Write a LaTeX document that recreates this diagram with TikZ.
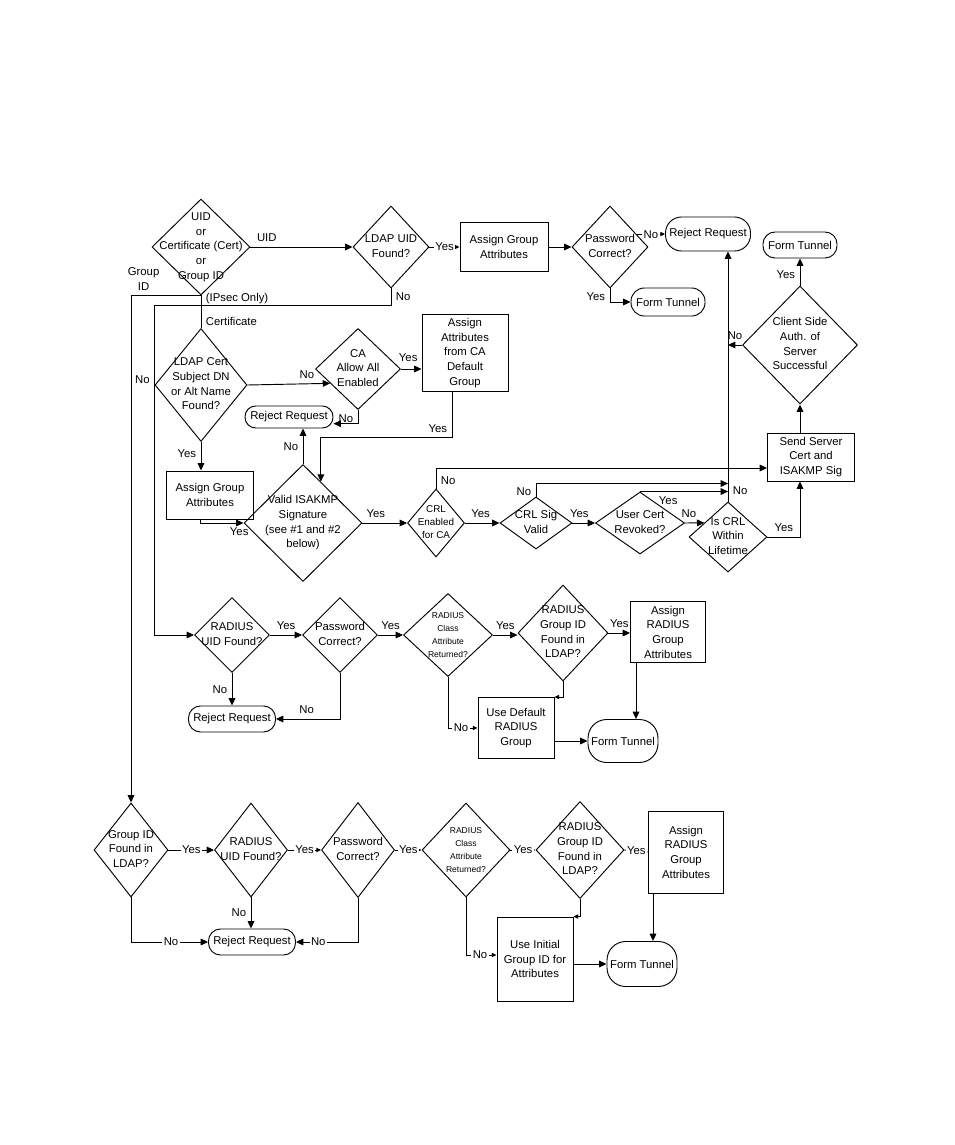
\documentclass[tikz,border=0pt]{standalone}
\usepackage{fontspec}
\setmainfont{Liberation Sans}
\usetikzlibrary{shapes.geometric,arrows.meta,calc}
\newcommand{\mainfnt}{\fontsize{8.5}{11}\selectfont}
\newcommand{\tinyfnt}{\fontsize{6.4}{9.75}\selectfont}
\newcommand{\crlfnt}{\fontsize{7.4}{9.75}\selectfont}
\newcommand{\dlines}[1]{\makebox[0pt]{\begin{tabular}{@{}c@{}}#1\end{tabular}}}

\tikzset{
  dia/.style 2 args={diamond, draw, inner sep=0pt, minimum width=#1*0.75pt, minimum height=#2*0.75pt},
  blk/.style 2 args={rectangle, draw, align=center, inner sep=1pt, minimum width=#1*0.75pt, minimum height=#2*0.75pt},
  term/.style n args={3}{rectangle, rounded corners=#3, draw, inner sep=1pt, minimum width=#1*0.75pt, minimum height=#2*0.75pt},
  arr/.style={-{Triangle[length=5.5pt,width=5pt]}},
  sarr/.style={-{Triangle[length=3.5pt,width=3.2pt]}},
  inl/.style={fill=white, inner sep=1pt}
}

\begin{document}
\begin{tikzpicture}[x=0.75pt, y=-0.75pt, line width=0.7pt, every node/.style={font=\mainfnt}]
\useasboundingbox (0,0) rectangle (954,1145);

\node[dia={98}{96}] (src) at (201,247) {\dlines{UID\\or\\Certificate (Cert)\\or\\Group ID}};
\node[dia={76}{82}] (ldapuid) at (391,247) {\dlines{LDAP UID\\Found?}};
\node[blk={88}{49}] (grpattr) at (504,247) {Assign Group\\Attributes};
\node[dia={76}{82}] (pwok) at (610,247) {\dlines{Password\\Correct?}};
\node[term={85}{34}{12pt}] (rejA) at (708,234) {Reject Request};
\node[term={74}{28}{10pt}] (tunA) at (668,302) {Form Tunnel};
\node[term={74}{26}{9pt}] (tunB) at (800,245) {Form Tunnel};
\node[dia={115}{118}] (srvauth) at (800,345) {\dlines{Client Side\\Auth. of\\Server\\Successful}};
\node[blk={87}{48}] (sendcert) at (811,457) {Send Server\\Cert and\\ISAKMP Sig};
\node[dia={92}{113}] (certdn) at (201,385) {\dlines{LDAP Cert\\Subject DN\\or Alt Name\\Found?}};
\node[dia={85}{81}] (caall) at (358,369) {\dlines{CA\\Allow All\\Enabled}};
\node[blk={86}{77}] (cagrp) at (465,353) {Assign\\Attributes\\from CA\\Default\\Group};
\node[term={88}{22}{8pt}] (rejB) at (289,417) {Reject Request};
\node[blk={87}{48}] (grpattrB) at (210,495) {Assign Group\\Attributes};
\node[dia={118}{117}] (isakmp) at (303,523) {\dlines{Valid ISAKMP\\Signature\\(see \#1 and \#2\\below)}};
\node[dia={57}{68}, font=\crlfnt] (crlon) at (436,523) {\dlines{CRL\\Enabled\\for CA}};
\node[dia={72}{52}] (crlsig) at (536,523) {\dlines{CRL Sig\\Valid}};
\node[dia={89}{62}] (revoked) at (640,523) {\dlines{User Cert\\Revoked?}};
\node[dia={78}{70}] (crllife) at (728,537) {\dlines{Is CRL\\Within\\Lifetime}};

\node[dia={75}{75}] (raduid) at (232,635) {\dlines{RADIUS\\UID Found?}};
\node[dia={75}{75}] (pwokB) at (340,635) {\dlines{Password\\Correct?}};
\node[dia={89}{83}, font=\tinyfnt] (classret) at (448,635) {\dlines{RADIUS\\Class\\Attribute\\Returned?}};
\node[dia={90}{96}] (radgrp) at (563,633) {\dlines{RADIUS\\Group ID\\Found in\\LDAP?}};
\node[blk={75}{61}] (radattr) at (668,632) {Assign\\RADIUS\\Group\\Attributes};
\node[term={87}{26}{9pt}] (rejC) at (232,719) {Reject Request};
\node[blk={76}{61}] (defgrp) at (516,728) {Use Default\\RADIUS\\Group};
\node[term={70}{43}{14pt}] (tunC) at (623,741) {Form Tunnel};

\node[dia={74}{94}] (gidldap) at (131,850) {\dlines{Group ID\\Found in\\LDAP?}};
\node[dia={73}{94}] (raduidB) at (251,850) {\dlines{RADIUS\\UID Found?}};
\node[dia={73}{95}] (pwokC) at (358,850) {\dlines{Password\\Correct?}};
\node[dia={88}{94}, font=\tinyfnt] (classretB) at (466,850) {\dlines{RADIUS\\Class\\Attribute\\Returned?}};
\node[dia={88}{97}] (radgrpB) at (580,850) {\dlines{RADIUS\\Group ID\\Found in\\LDAP?}};
\node[blk={75}{82}] (radattrB) at (686,852) {Assign\\RADIUS\\Group\\Attributes};
\node[term={87}{26}{9pt}] (rejD) at (252,942) {Reject Request};
\node[blk={76}{84}] (initgrp) at (535,959) {Use Initial\\Group ID for\\Attributes};
\node[term={70}{45}{14pt}] (tunD) at (642,964) {Form Tunnel};

\coordinate (pwedge) at ($(pwok.north)!0.7!(pwok.east)$);
\coordinate (caedge) at ($(caall.west)!0.35!(caall.south)$);
\coordinate (cadrop) at ([xshift=-9.75pt]cagrp.south);
\coordinate (isaedge) at ($(isakmp.north)!0.3!(isakmp.east)$);
\coordinate (rejBin) at ([yshift=-5pt]rejB.east);
\coordinate (grpdrop) at ([xshift=-7.5pt]grpattrB.south);
\coordinate (sendin) at ([yshift=-8.25pt]sendcert.west);
\coordinate (sigjoin) at ([yshift=13.5pt]crllife.north);
\coordinate (lifeedge) at ($(crllife.west)!0.4!(crllife.north)$);
\coordinate (raddrop) at ([xshift=-24pt]radattr.south);
\coordinate (raddropB) at ([xshift=-24.75pt]radattrB.south);
\coordinate (initin) at ([yshift=3pt]initgrp.west);

\draw[arr] (src.east) -- node[above, pos=0.16]{UID} (ldapuid.west);
\draw[sarr] (ldapuid.east) -- node[inl]{Yes} (grpattr.west);
\draw[arr] (grpattr.east) -- (pwok.west);
\draw[sarr] (pwedge) -- node[inl]{No} (rejA.west);
\draw[arr] (pwok.south) |- node[left, pos=0.3]{Yes} (tunA.west);
\draw[arr] (src.south) -| node[above, pos=0.41, align=center]{Group\\ID} (gidldap.north);
\draw (src.south) -- node[right, pos=0.1]{(IPsec Only)} node[right, pos=0.8]{Certificate} (certdn.north);
\draw[arr] (ldapuid.south) -- node[right]{No} ++(0,17) -| ([xshift=-30pt]raduid.west) -- (raduid.west);
\node[left, yshift=3.75pt] (dnno) at (certdn.west) {No};
\draw[arr] (certdn.east) -- node[above, pos=0.72]{No} (caedge);
\draw[arr] (caall.east) -- node[above=2pt, pos=0.35]{Yes} (caall.east -| cagrp.west);
\draw[arr] (cadrop) -- node[above left, pos=1]{Yes} ++(0,45.5) -| (isaedge);
\draw[arr] (caall.south) |- node[left, pos=0.3]{No} (rejBin);
\draw[arr] (isakmp.north) -- node[left]{No} (isakmp.north |- rejB.south);
\draw[arr] (certdn.south) -- node[left, pos=0.4]{Yes} (certdn.south |- grpattrB.north);
\draw[arr] (grpdrop) |- node[below, pos=0.95]{Yes} (isakmp.west);
\draw[arr] (isakmp.east) -- node[above, pos=0.3]{Yes} (crlon.west);
\draw[arr] (crlon.north) |- node[right, pos=0.2]{No} (sendin);
\draw[arr] (crlon.east) -- node[above, pos=0.45]{Yes} (crlsig.west);
\draw[arr] (crlsig.north) |- node[left, pos=0.2]{No} (sigjoin);
\draw[arr] (crlsig.east) -- node[above, pos=0.3]{Yes} (revoked.west);
\draw[arr] (revoked.north) -- node[below, pos=0.32]{Yes} (revoked.north -| crllife.north);
\draw[arr] (revoked.east) -- node[above, pos=0.2]{No} (lifeedge);
\draw[arr] (crllife.north) -- node[right, pos=0.045]{No} (crllife.north |- rejA.south);
\draw[arr] (srvauth.west) -- node[above]{No} (srvauth.west -| crllife.north);
\draw[arr] (crllife.east) -| node[above, pos=0.25]{Yes} (srvauth.south |- sendcert.south);
\draw[arr] (srvauth.south |- sendcert.north) -- (srvauth.south);
\draw[arr] (srvauth.north) -- node[left, pos=0.4]{Yes} (tunB.south);

\draw[arr] (raduid.east) -- node[above]{Yes} (pwokB.west);
\draw[arr] (pwokB.east) -- node[above]{Yes} (classret.west);
\draw[arr] (classret.east) -- node[above]{Yes} (classret.east -| radgrp.west);
\draw[arr] (radgrp.east) -- node[above]{Yes} (radgrp.east -| radattr.west);
\draw[arr] (raduid.south) -- node[left]{No} (rejC.north);
\draw[arr] (pwokB.south) |- node[above, pos=0.76]{No} (rejC.east);
\draw[sarr] (classret.south) |- node[inl, pos=0.72]{No} (defgrp.west);
\draw[sarr] (radgrp.south) |- (defgrp.north east);
\draw[arr] (tunC.west -| defgrp.east) -- (tunC.west);
\draw[arr] (raddrop) -- (raddrop |- tunC.north);

\draw[arr] (gidldap.east) -- node[inl]{Yes} (raduidB.west);
\draw[sarr] (raduidB.east) -- node[inl]{Yes} (pwokC.west);
\draw[sarr] (pwokC.east) -- node[inl]{Yes} (classretB.west);
\draw[sarr] (classretB.east) -- node[inl]{Yes} (radgrpB.west);
\draw[sarr] (radgrpB.east) -- node[inl]{Yes} (radattrB.west);
\draw[arr] (raduidB.south) -- node[left]{No} (raduidB.south |- rejD.north);
\draw[arr] (gidldap.south) |- node[inl, pos=0.76]{No} (rejD.west);
\draw[arr] (pwokC.south) |- node[inl, pos=0.82]{No} (rejD.east);
\draw[sarr] (classretB.south) |- node[inl, pos=0.73]{No} (initin);
\draw[sarr] (radgrpB.south) |- (initgrp.north east);
\draw[arr] (tunD.west -| initgrp.east) -- (tunD.west);
\draw[arr] (raddropB) -- (raddropB |- tunD.north);
\end{tikzpicture}
\end{document}
